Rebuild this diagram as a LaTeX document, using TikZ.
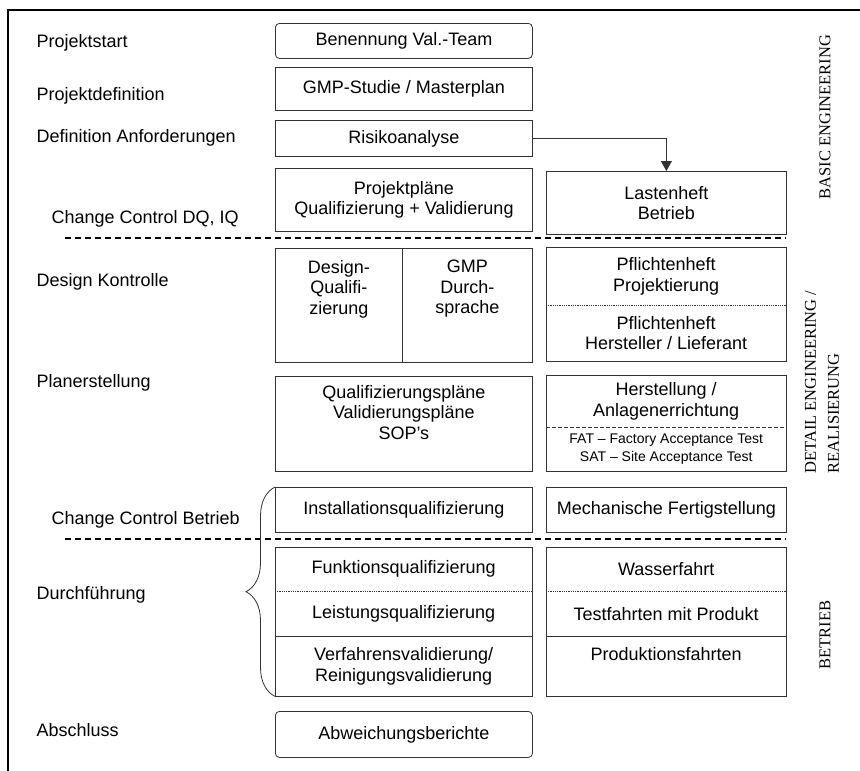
\documentclass[tikz,border=0pt]{standalone}
\usepackage{fontspec}
\setmainfont{Liberation Sans}
\newfontfamily\serifschrift{Liberation Serif}
\usetikzlibrary{arrows.meta,positioning,decorations.pathreplacing}

\begin{document}
\begin{tikzpicture}[x=1pt,y=-1pt,
        feld/.style={anchor=north west,inner sep=0pt,align=center,font=\fontsize{18}{20.5}\selectfont},
        kasten/.style={feld,draw=black!80,line width=0.8pt},
        rkasten/.style={kasten,rounded corners=4pt},
        rand/.style={draw=black!80,line width=0.8pt},
        teil/.style={rand,densely dotted},
        mitte/.style={minimum width=257pt},
        rechts/.style={minimum width=240pt},
        phase/.style={anchor=west,font=\fontsize{18}{20.5}\selectfont},
        seite/.style={rotate=90,font=\serifschrift\fontsize{16.5}{23}\selectfont},
        trenn/.style={line width=1.2pt,dash pattern=on 6pt off 4pt},
        pfeil/.style={rand,-{Triangle[length=10pt,width=11pt]}},
        klammer/.style={rand,decorate,decoration={brace,amplitude=29pt}}]
      \useasboundingbox (0,0) rectangle (860,771);
      \draw[line width=1.5pt] (8,771) -- (8,10) -- (860,10);

      \node [phase] (start)  at (33,43)  {Projektstart};
      \node [phase] (def)    at (33,96)  {Projektdefinition};
      \node [phase] (anf)    at (33,138) {Definition Anforderungen};
      \node [phase] (ccdq)   at (48,219) {Change Control DQ, IQ};
      \node [phase] (design) at (33,282) {Design Kontrolle};
      \node [phase] (plan)   at (33,383) {Planerstellung};
      \node [phase] (ccbe)   at (48,520) {Change Control Betrieb};
      \node [phase] (durch)  at (33,595) {Durchführung};
      \node [phase] (absch)  at (33,730) {Abschluss};

      \node [rkasten,mitte,minimum height=35pt] (val)     at (275,23)  {Benennung Val.-Team};
      \node [kasten,mitte,minimum height=43pt]  (gmp)     at (275,67)  {GMP-Studie / Masterplan};
      \node [kasten,mitte,minimum height=36pt]  (risiko)  at (275,120) {Risikoanalyse};
      \node [kasten,mitte,minimum height=63pt]  (projekt) at (275,168) {Projektpläne\\Qualifizierung + Validierung};
      \node [kasten,rechts,minimum height=63pt] (lasten)  at (546,171) {Lastenheft\\Betrieb};

      \node [kasten,minimum width=127pt,minimum height=114pt] (dq)   at (275,248) {};
      \node [kasten,minimum width=130pt,minimum height=114pt] (gmpd) at (402,248) {};
      \node [feld,anchor=north] (dqtext)   [below=12pt of dq.north]   {Design-\\Qualifi-\\zierung};
      \node [feld,anchor=north] (gmpdtext) [below=12pt of gmpd.north] {GMP\\Durch-\\sprache};
      \node [feld,rechts,minimum height=58pt] (pflA) at (546,247) {Pflichtenheft\\Projektierung};
      \node [feld,rechts,minimum height=56pt] (pflB) at (546,305) {Pflichtenheft\\Hersteller / Lieferant};

      \node [kasten,mitte,minimum height=95pt] (qpl) at (275,376) {};
      \node [feld,anchor=north] (qpltext) [below=9pt of qpl.north] {Qualifizierungspläne\\Validierungspläne\\SOP's};
      \node [feld,rechts,minimum height=52pt] (hstA) at (546,375) {Herstellung /\\Anlagenerrichtung};
      \node [feld,rechts,minimum height=44pt,font=\fontsize{14}{17.5}\selectfont] (hstB) at (546,427)
            {FAT -- Factory Acceptance Test\\SAT -- Site Acceptance Test};

      \node [kasten,mitte,minimum height=45pt]  (iq)   at (275,487) {Installationsqualifizierung};
      \node [kasten,rechts,minimum height=45pt] (mech) at (546,487) {Mechanische Fertigstellung};

      \node [feld,mitte,minimum height=44pt]  (fq) at (275,547) {Funktionsqualifizierung};
      \node [feld,mitte,minimum height=45pt]  (lq) at (275,591) {Leistungsqualifizierung};
      \node [feld,mitte,minimum height=60pt]  (vq) at (275,636) {Verfahrensvalidierung/\\Reinigungsvalidierung};
      \node [feld,rechts,minimum height=44pt] (wf) at (546,547) {Wasserfahrt};
      \node [feld,rechts,minimum height=45pt] (tf) at (546,591) {Testfahrten mit Produkt};
      \node [feld,rechts,minimum height=60pt] (pf) at (546,636) {};
      \node [feld,anchor=north] (pftext) [below=11pt of pf.north] {Produktionsfahrten};

      \node [rkasten,mitte,minimum height=46pt] (abw) at (275,711) {Abweichungsberichte};

      \draw[rand] (pflA.north west) rectangle (pflB.south east);
      \draw[teil] (pflA.south west) -- (pflA.south east);
      \draw[rand] (hstA.north west) rectangle (hstB.south east);
      \draw[rand,dash pattern=on 4pt off 2pt] (hstA.south west) -- (hstA.south east);
      \draw[rand] (fq.north west) rectangle (vq.south east);
      \draw[teil] (fq.south west) -- (fq.south east);
      \draw[rand] (lq.south west) -- (lq.south east);
      \draw[rand] (wf.north west) rectangle (pf.south east);
      \draw[teil] (wf.south west) -- (wf.south east);
      \draw[rand] (tf.south west) -- (tf.south east);

      \draw[trenn] (65,238) -- (786,238);
      \draw[trenn] (65,539) -- (786,539);
      \draw[pfeil] (risiko.east) -| (lasten.north);
      \draw[klammer] (vq.south west) -- (iq.north west);

      \node [seite] (basic) at (825,117) {BASIC ENGINEERING};
      \node [seite,anchor=west,align=left] (detail) at (822,477) {DETAIL ENGINEERING /\\REALISIERUNG};
      \node [seite] (betrieb) at (825,635) {BETRIEB};
    \end{tikzpicture}
\end{document}
